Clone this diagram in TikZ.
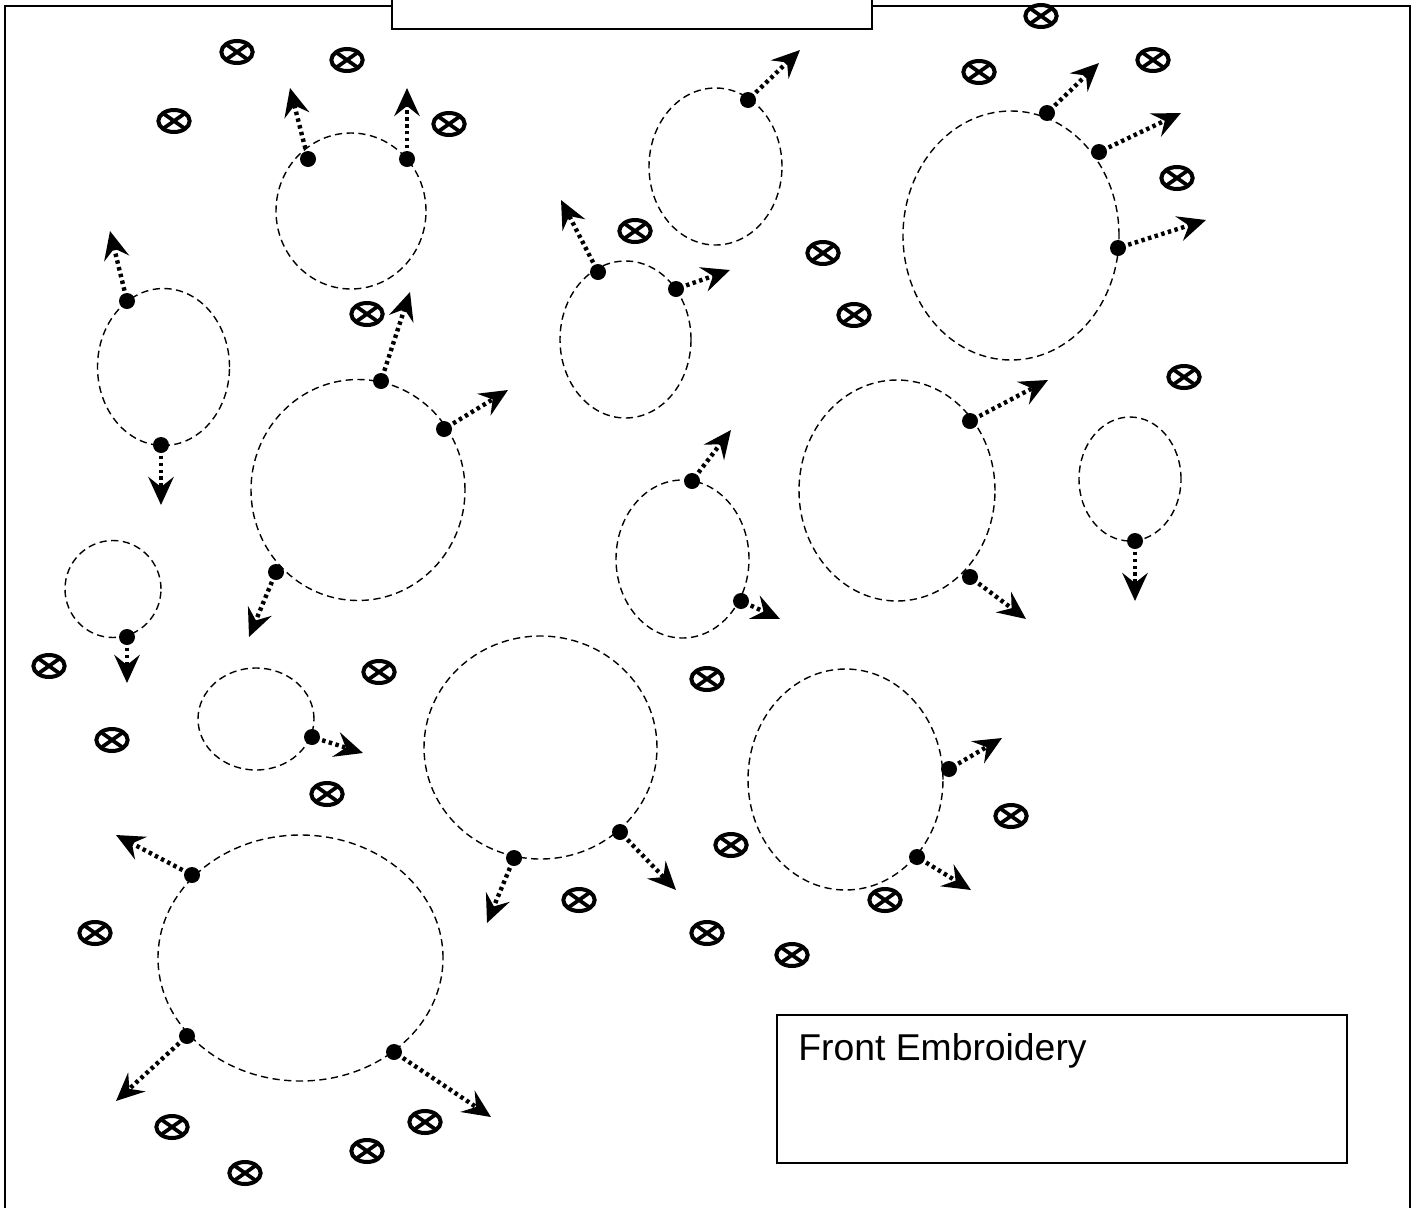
\documentclass[tikz,border=0pt]{standalone}
\usepackage{fontspec}
\setmainfont{Liberation Sans}
\usetikzlibrary{arrows.meta,shapes.geometric}
\tikzset{
  x=0.75pt,y=-0.75pt,
  frameline/.style={line width=1.7pt,draw=black},
  loopring/.style={ellipse,draw=black,line width=1.05pt,dash pattern=on 5.4pt off 3.4pt,inner sep=0pt,outer sep=0pt},
  blackdot/.style={circle,fill=black,minimum size=12pt,inner sep=0pt,outer sep=0pt},
  stitch/.style={line width=3.3pt,dash pattern=on 2.6pt off 2.6pt,-{Stealth[length=21pt,width=19pt,inset=7.5pt]},shorten <=2pt},
  crossmark/.style={ellipse,draw=black,line width=3pt,minimum width=23.5pt,minimum height=16.5pt,inner sep=0pt,
    path picture={\draw[line width=2.8pt] (path picture bounding box.north west)--(path picture bounding box.south east)
      (path picture bounding box.north east)--(path picture bounding box.south west);}}
}
\newcommand{\ring}[5]{\node[loopring,minimum width=#4*1.5pt,minimum height=#5*1.5pt] (#1) at (#2,#3) {};}
\newcommand{\stitchout}[5]{\node[blackdot] (#1) at (#2,#3) {};\coordinate (#1e) at (#4,#5);\draw[stitch] (#1) -- (#1e);}
\begin{document}
\begin{tikzpicture}
\useasboundingbox (0,0) rectangle (1420,1207);
\fill[white] (0,0) rectangle (1420,1207);
\coordinate (fa) at (5,1220);\coordinate (fb) at (5,6);\coordinate (fc) at (1410,6);\coordinate (fd) at (1410,1220);
\draw[frameline] (fa)--(fb)--(fc)--(fd);
\node[frameline,fill=white,draw,minimum width=360pt,minimum height=45pt,inner sep=0pt] (title) at (632,-1) {};
\node[frameline,draw,fill=white,minimum width=427.5pt,minimum height=111pt,inner sep=0pt] (legend) at (1062,1089) {};
\node[anchor=base west,inner sep=0pt,font=\fontsize{28}{30}\selectfont] (legendtext) at (798,1060) {Front Embroidery};
\ring{r1}{351}{211}{75}{78}
\ring{r2}{163.5}{367}{66}{78.5}
\ring{r3}{358}{490}{107}{110.5}
\ring{r4}{113}{589}{48}{48.5}
\ring{r5}{256}{719}{58}{51}
\ring{r6}{540.5}{747.5}{116.5}{111.5}
\ring{r7}{300.5}{958}{142.5}{123}
\ring{r8}{625.5}{339.5}{65.5}{78.5}
\ring{r9}{715.5}{166.5}{66.5}{78.5}
\ring{r10}{682.5}{559}{66.5}{79}
\ring{r11}{897}{490.5}{98}{110.5}
\ring{r12}{1011}{235.5}{108}{124.5}
\ring{r13}{1130}{479}{51}{62}
\ring{r14}{845.5}{779.5}{97.5}{110.5}
\stitchout{a1}{308}{159}{290}{88}
\stitchout{a2}{407}{159}{407}{88}
\stitchout{a3}{127}{301}{110}{231}
\stitchout{a4}{161}{445}{161}{505}
\stitchout{a5}{381}{381}{410}{292}
\stitchout{a6}{444}{429}{508}{390}
\stitchout{a7}{276}{572}{249}{637}
\stitchout{a8}{127}{637}{127}{683}
\stitchout{a9}{312}{737}{363}{753}
\stitchout{a10}{514}{858}{487}{923}
\stitchout{a11}{620}{832}{676}{890}
\stitchout{a12}{192}{875}{116}{835}
\stitchout{a13}{187}{1036}{116}{1101}
\stitchout{a14}{394}{1052}{491}{1117}
\stitchout{a15}{598}{272}{561}{200}
\stitchout{a16}{676}{289}{730}{270}
\stitchout{a17}{748}{100}{800}{50}
\stitchout{a18}{692}{481}{731}{430}
\stitchout{a19}{741}{601}{780}{619}
\stitchout{a20}{970}{421}{1048}{380}
\stitchout{a21}{970}{577}{1026}{619}
\stitchout{a22}{1047}{113}{1099}{63}
\stitchout{a23}{1099}{152}{1181}{113}
\stitchout{a24}{1118}{248}{1206}{220}
\stitchout{a25}{1135}{541}{1135}{601}
\stitchout{a26}{949}{769}{1002}{738}
\stitchout{a27}{917}{857}{971}{890}
\foreach \i/\p/\q in {1/237/52,2/347/60,3/174/121,4/449/124,5/367/314,6/635/231,7/823/253,8/854/315,9/979/72,10/1041/16,11/1153/60,12/1177/178,13/1184/377,14/49/666,15/112/740,16/379/672,17/327/794,18/707/679,19/731/845,20/1011/816,21/885/900,22/579/900,23/707/933,24/792/955,25/95/933,26/172/1127,27/245/1173,28/367/1151,29/425/1122}
  \node[crossmark] (m\i) at (\p,\q) {};
\end{tikzpicture}
\end{document}
